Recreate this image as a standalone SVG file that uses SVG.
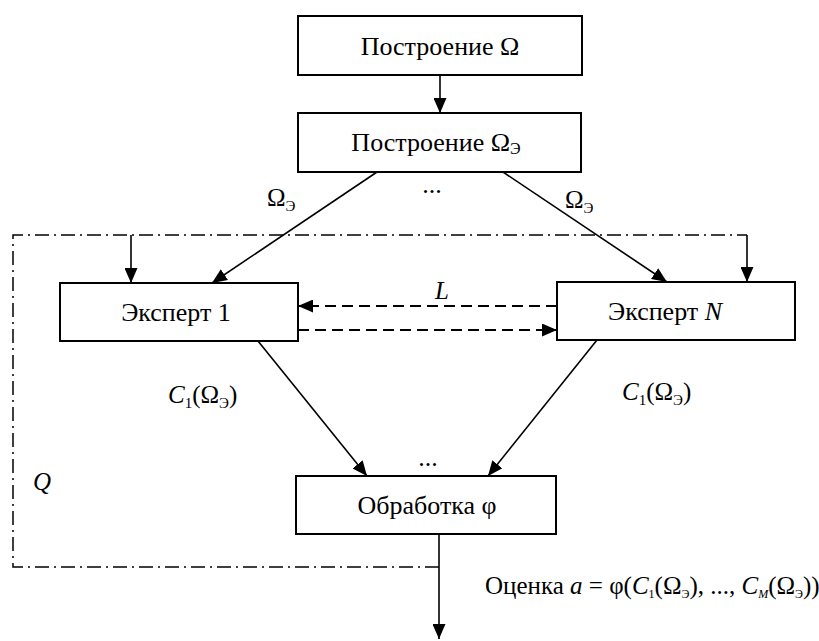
<svg xmlns="http://www.w3.org/2000/svg" width="819" height="641" viewBox="0 0 819 641">
<style>
.box{fill:#fff;stroke:#000;stroke-width:2}
.t{font-family:"Liberation Serif","Times New Roman",serif;font-size:26px;fill:#000;text-anchor:middle;dominant-baseline:central}
.lbl{font-family:"Liberation Serif","Times New Roman",serif;font-size:25px;fill:#000}
.it{font-style:italic}
.ln{stroke:#000;stroke-width:1.6;fill:none}
.dash{stroke:#000;stroke-width:2;fill:none;stroke-dasharray:11 6}
.dd{stroke:#000;stroke-width:1.5;fill:none;stroke-dasharray:14 5 2 5}
</style>
<defs>
<marker id="ah" markerUnits="userSpaceOnUse" markerWidth="15" markerHeight="13" refX="15" refY="6.5" orient="auto">
<path d="M0,0 L15,6.5 L0,13 z" fill="#000"/>
</marker>
</defs>
<g id="connectors">
<line class="ln" x1="440" y1="75" x2="440" y2="113" marker-end="url(#ah)"/>
<line class="ln" x1="377" y1="172" x2="212" y2="283" marker-end="url(#ah)"/>
<line class="ln" x1="503" y1="172" x2="667" y2="282" marker-end="url(#ah)"/>
<path class="dd" d="M439,567 L13,567 L13,235 L747,235"/>
<line class="ln" x1="131" y1="235" x2="131" y2="283" marker-end="url(#ah)"/>
<line class="ln" x1="747" y1="235" x2="747" y2="282" marker-end="url(#ah)"/>
<line class="dash" x1="557" y1="306" x2="298" y2="306" marker-end="url(#ah)"/>
<line class="dash" x1="298" y1="330" x2="557" y2="330" marker-end="url(#ah)"/>
<line class="ln" x1="258" y1="341" x2="367" y2="476" marker-end="url(#ah)"/>
<line class="ln" x1="597" y1="340" x2="488" y2="476" marker-end="url(#ah)"/>
<line class="ln" x1="439" y1="534" x2="439" y2="639" marker-end="url(#ah)"/>
<text class="lbl" x="267" y="206">Ω<tspan font-size="15" dy="5">Э</tspan></text>
<text class="lbl" x="565" y="208">Ω<tspan font-size="15" dy="5">Э</tspan></text>
<text class="t" x="432" y="184">...</text>
<text class="lbl it" x="435" y="299">L</text>
<text class="lbl" x="168" y="403"><tspan class="it">C</tspan><tspan font-size="15" dy="5">1</tspan><tspan dy="-5">(Ω</tspan><tspan font-size="15" dy="5">Э</tspan><tspan dy="-5">)</tspan></text>
<text class="lbl" x="622" y="400"><tspan class="it">C</tspan><tspan font-size="15" dy="5">1</tspan><tspan dy="-5">(Ω</tspan><tspan font-size="15" dy="5">Э</tspan><tspan dy="-5">)</tspan></text>
<text class="t" x="428" y="457">...</text>
<text class="lbl it" x="33" y="490">Q</text>
<text class="lbl" x="485" y="594" font-size="18.5">Оценка <tspan class="it">a</tspan> = φ(<tspan class="it">C</tspan><tspan font-size="12" dy="4">1</tspan><tspan dy="-4">(Ω</tspan><tspan font-size="12" dy="4">Э</tspan><tspan dy="-4">), ..., </tspan><tspan class="it">C</tspan><tspan class="it" font-size="12" dy="4">M</tspan><tspan dy="-4">(Ω</tspan><tspan font-size="12" dy="4">Э</tspan><tspan dy="-4">))</tspan></text>
</g>
<g id="node-postroenie">
<rect class="box" x="298" y="16" width="284" height="59"/>
<text class="t" x="440" y="46">Построение Ω</text>
</g>
<g id="node-postroenie-e">
<rect class="box" x="298" y="113" width="283" height="59"/>
<text class="t" x="436" y="142">Построение Ω<tspan font-size="16" dy="6">Э</tspan></text>
</g>
<g id="node-expert1">
<rect class="box" x="60" y="283" width="238" height="58"/>
<text class="t" x="176" y="312">Эксперт 1</text>
</g>
<g id="node-expertN">
<rect class="box" x="557" y="282" width="238" height="58"/>
<text class="t" x="665" y="311">Эксперт <tspan class="it">N</tspan></text>
</g>
<g id="node-obrabotka">
<rect class="box" x="296" y="476" width="260" height="58"/>
<text class="t" x="427" y="505">Обработка φ</text>
</g>
</svg>
